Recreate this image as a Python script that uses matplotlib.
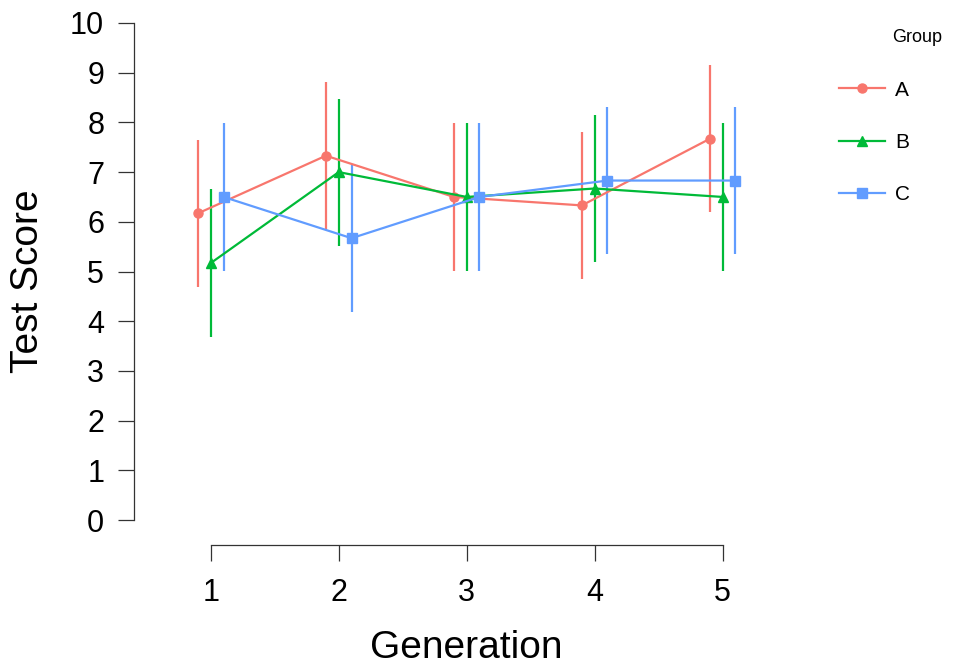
import numpy as np
import matplotlib
matplotlib.use('Agg')
import matplotlib.pyplot as plt
from matplotlib.lines import Line2D

plt.rcParams['font.family'] = ['Liberation Sans', 'DejaVu Sans']

# data
generations = [1, 2, 3, 4, 5]
groups = ['A', 'B', 'C']
mean_a = [6.17, 7.33, 6.5, 6.33, 7.67]
mean_b = [5.17, 7.0, 6.5, 6.67, 6.5]
mean_c = [6.5, 5.67, 6.5, 6.83, 6.83]
ci_a = [1.48, 1.48, 1.48, 1.48, 1.48]
ci_b = [1.48, 1.48, 1.48, 1.48, 1.48]
ci_c = [1.48, 1.48, 1.48, 1.48, 1.48]

colors = ['#F8766D', '#00BA38', '#619CFF']
markers = ['o', '^', 's']
offsets = [-0.1, 0.0, 0.1]

fig = plt.figure(figsize=(9.58, 6.66), dpi=100)
ax = fig.add_axes([134 / 958, 146 / 666, 627 / 958, 497 / 666])

x = np.array(generations)
for means, cis, col, mk, off in zip([mean_a, mean_b, mean_c], [ci_a, ci_b, ci_c],
                                    colors, markers, offsets):
    ax.errorbar(x + off, means, yerr=cis, color=col, marker=mk, markersize=6.5,
                linewidth=1.6, elinewidth=1.6, capsize=0, clip_on=False)

ax.set_xlim(0.4, 5.3)
ax.set_ylim(0, 10)
ax.set_xticks(generations)
ax.set_yticks(range(0, 11))

for s in ['top', 'right']:
    ax.spines[s].set_visible(False)
ax.spines['left'].set_bounds(0, 10)
ax.spines['bottom'].set_bounds(1, 5)
ax.spines['bottom'].set_position(('outward', 18))
for s in ['left', 'bottom']:
    ax.spines[s].set_color('#333333')
    ax.spines[s].set_linewidth(0.9)

ax.tick_params(axis='both', colors='#333333', length=11.5, width=0.9,
               labelsize=22, labelcolor='black', pad=10)
ax.tick_params(axis='x', pad=12)

ax.set_xlabel('Generation', fontsize=28)
ax.set_ylabel('Test Score', fontsize=28)
# labels centred on the drawn spine ranges
ax.xaxis.set_label_coords((3 - 0.4) / 4.9, -0.222)
ax.yaxis.set_label_coords(-0.140, 0.48)

# legend
handles = [Line2D([0], [0], color=c, marker=m, markersize=6.5, linewidth=1.6)
           for c, m in zip(colors, markers)]
fig.legend(handles, groups, loc='upper left', bbox_to_anchor=(820 / 958, 1 - 62 / 666),
           frameon=False, fontsize=15, handlelength=2.2, labelspacing=1.6,
           handletextpad=0.5)
fig.text(892 / 958, 1 - 38 / 666, 'Group', fontsize=13, va='center', ha='left')

fig.savefig('out.png', dpi=100)
